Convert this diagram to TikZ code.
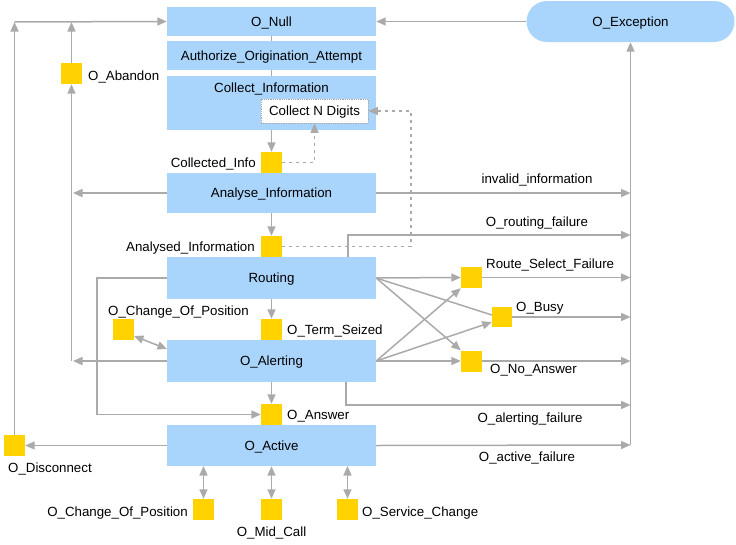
\documentclass[tikz,border=0pt]{standalone}
\usepackage{fontspec}
\setmainfont{Liberation Sans}
\usetikzlibrary{arrows.meta,calc}
\definecolor{boxblue}{RGB}{169,212,252}
\definecolor{sqyellow}{RGB}{255,210,0}
\definecolor{lgray}{RGB}{170,170,170}
\begin{document}
\begin{tikzpicture}[x=1pt,y=-1pt,
  font=\fontsize{13.3}{16}\selectfont,
  every node/.append style={text height=9.5pt, text depth=0pt},
  box/.style={fill=boxblue, draw=none, inner sep=0pt, minimum width=209pt},
  sq/.style={fill=sqyellow, draw=none, minimum size=21pt, inner sep=0pt},
  lbl/.style={inner sep=0pt},
  conn/.style={draw=lgray, line width=1.5pt},
  tip/.style={-{Triangle[length=9.5pt,width=8pt]}},
  arr/.style={conn, tip},
  darr/.style={conn, {Triangle[length=9.5pt,width=8pt]}-{Triangle[length=9.5pt,width=8pt]}},
  dotl/.style={draw=lgray, line width=1.5pt, dash pattern=on 3pt off 4pt, tip},
]
\useasboundingbox (0,0) rectangle (736,544);

% main boxes
\node[box, minimum height=29pt] (null) at (271.5,21.5) {O\_Null};
\node[box, minimum height=29pt] (auth) at (271.5,55.5) {Authorize\_Origination\_Attempt};
\node[box, minimum height=54pt] (collect) at (271.5,103) {};
\node[lbl] (collectlbl) at (271.5,87.5) {Collect\_Information};
\node[fill=white, draw=lgray, densely dotted, line width=0.8pt, minimum width=107pt, minimum height=24pt, inner sep=0pt] (cnd) at (314.5,111) {Collect N Digits};
\node[box, minimum height=40pt] (analyse) at (271.5,193) {Analyse\_Information};
\node[box, minimum height=42pt] (routing) at (271.5,278) {Routing};
\node[box, minimum height=42pt] (alerting) at (271.5,361) {O\_Alerting};
\node[box, minimum height=41pt] (active) at (271.5,445.5) {O\_Active};
\node[box, rounded corners=20.5pt, minimum width=208pt, minimum height=41pt] (exc) at (630.5,21.5) {O\_Exception};

% squares
\node[sq] (cisq) at (271.5,162.5) {};
\node[sq] (aisq) at (271.5,246.5) {};
\node[sq] (tssq) at (271.5,329.5) {};
\node[sq] (anssq) at (271.5,414.5) {};
\node[sq] (absq) at (71.5,73.5) {};
\node[sq] (cop1) at (123.5,329.5) {};
\node[sq] (rsf) at (471.5,277.5) {};
\node[sq, minimum size=20pt] (busy) at (502,317) {};
\node[sq] (noans) at (471.5,361) {};
\node[sq] (disc) at (14.5,445.5) {};
\node[sq] (cop2) at (203.5,509.5) {};
\node[sq] (mid) at (271.5,509.5) {};
\node[sq] (svc) at (347.5,509.5) {};

% labels
\node[lbl, anchor=east] (cilbl) at (256,163) {Collected\_Info};
\node[lbl, anchor=east] (ailbl) at (255,246.5) {Analysed\_Information};
\node[lbl, anchor=west] (tslbl) at (287,329.5) {O\_Term\_Seized};
\node[lbl, anchor=west] (anslbl) at (287,415) {O\_Answer};
\node[lbl, anchor=west] (ablbl) at (88,76) {O\_Abandon};
\node[lbl, anchor=west] (cop1lbl) at (108,311) {O\_Change\_Of\_Position};
\node[lbl, anchor=west] (rsflbl) at (486,264) {Route\_Select\_Failure};
\node[lbl, anchor=west] (busylbl) at (516,307) {O\_Busy};
\node[lbl, anchor=west] (noanslbl) at (490,369) {O\_No\_Answer};
\node[lbl, anchor=west] (disclbl) at (8,468) {O\_Disconnect};
\node[lbl, anchor=east] (cop2lbl) at (188,512) {O\_Change\_Of\_Position};
\node[lbl] (midlbl) at (271.5,532) {O\_Mid\_Call};
\node[lbl, anchor=west] (svclbl) at (362,512) {O\_Service\_Change};
\node[lbl] (invlbl) at (537,179) {invalid\_information};
\node[lbl] (rflbl) at (537,222) {O\_routing\_failure};
\node[lbl] (aflbl) at (530,418) {O\_alerting\_failure};
\node[lbl] (acflbl) at (527,457) {O\_active\_failure};

% helper coordinates
\coordinate (tl) at (14.5,22);
\coordinate (abtop) at (71.5,22);
\coordinate (abbot) at (71.5,361);
\coordinate (anw) at (73,193);
\coordinate (alw) at (73,361);
\coordinate (dotc) at (411,246.5);
\coordinate (exbot) at (630.5,445);
\coordinate (inv) at (630.5,193);
\coordinate (rnorth) at (348,257);
\coordinate (rf) at (630.5,235);
\coordinate (rsfe) at (630.5,277.5);
\coordinate (busye) at (630.5,317);
\coordinate (noanse) at (630.5,361);
\coordinate (rwest) at (97,278);
\coordinate (alsouth) at (346,382);
\coordinate (af) at (630.5,405);
\coordinate (acf) at (630.5,445);
\coordinate (cop1a) at (134,336);
\coordinate (cop1b) at (167,349);
\coordinate (act1) at (203.5,466);
\coordinate (act3) at (347.5,466);
\coordinate (busyin) at ($(busy.west)!0.5!(busy.south west)$);
\coordinate (busyr) at ($(busy.west)!0.2!(busy.north west)$);

% connectors
\draw[conn] (null.south) -- (auth.north);
\draw[conn] (auth.south) -- (collect.north);
\draw[arr] (collect.south) -- (cisq.north);
\draw[dotl] (cisq.east) -| (cnd.south);
\draw[arr] (analyse.south) -- (aisq.north);
\draw[dotl] (aisq.east) -- (dotc) |- (cnd.east);
\draw[arr] (analyse.west) -- (anw);
\draw[arr] (alerting.west) -- (alw);
\draw[arr] (abbot) -- (absq.south);
\draw[arr] (absq.north) -- (abtop);
\draw[arr] (disc.north) -- (tl);
\draw[arr] (tl) -- (null.west);
\draw[arr] (exc.west) -- (null.east);
\draw[arr] (exbot) -- (exc.south);
\draw[arr] (analyse.east) -- (inv);
\draw[arr] (rnorth) |- (rf);
\draw[arr] (routing.east) -- (rsf.west);
\draw[conn] (routing.east) -- (busyr);
\draw[arr] (routing.east) -- (noans.north west);
\draw[arr] (alerting.east) -- (rsf.south west);
\draw[arr] (alerting.east) -- (busyin);
\draw[arr] (alerting.east) -- (noans.west);
\draw[arr] (rsf.east) -- (rsfe);
\draw[arr] (busy.east) -- (busye);
\draw[arr] (noans.east) -- (noanse);
\draw[arr] (routing.south) -- (tssq.north);
\draw[darr] (cop1a) -- (cop1b);
\draw[arr] (alerting.south) -- (anssq.north);
\draw[arr] (routing.west) -- (rwest) |- (anssq.west);
\draw[arr] (alsouth) |- (af);
\draw[arr] (active.west) -- (disc.east);
\draw[arr] (active.east) -- (acf);
\draw[darr] (act1) -- (cop2.north);
\draw[darr] (active.south) -- (mid.north);
\draw[darr] (act3) -- (svc.north);
\end{tikzpicture}
\end{document}
